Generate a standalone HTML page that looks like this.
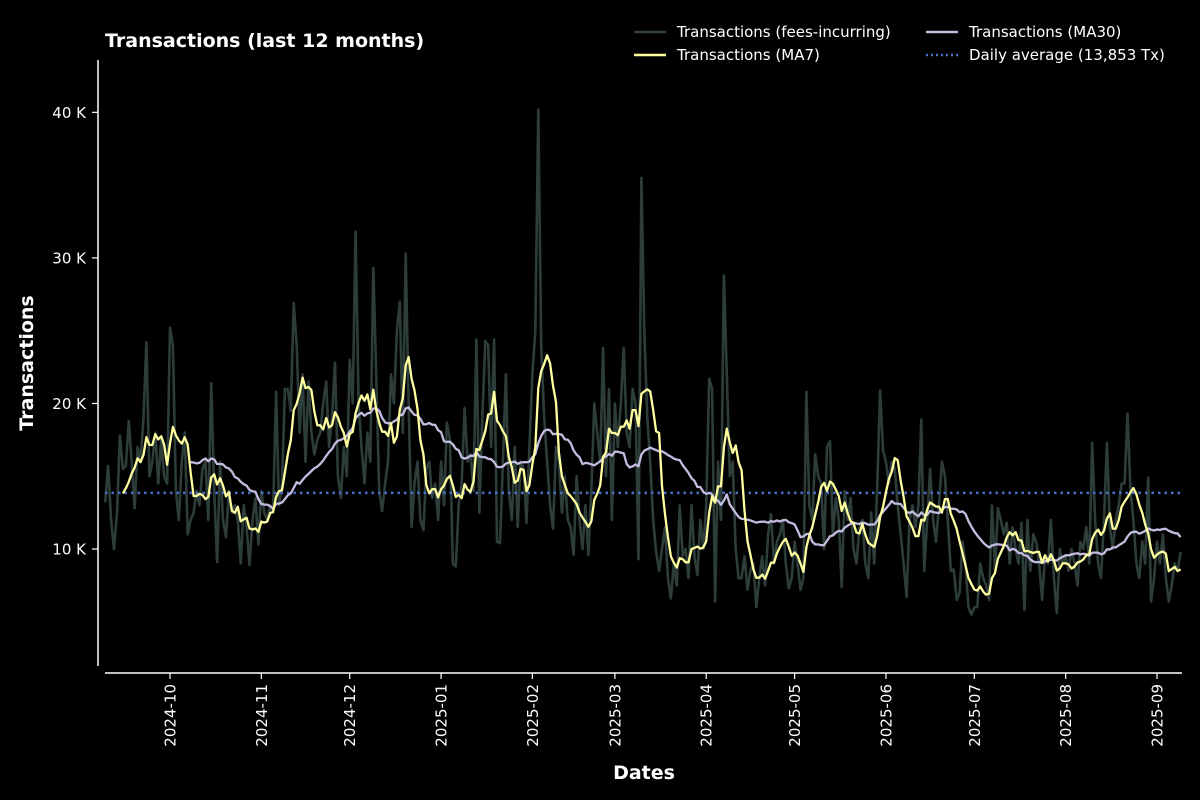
<!DOCTYPE html>
<html><head><meta charset="utf-8"><style>
html,body{margin:0;padding:0;background:#000;}
svg{display:block;font-family:"DejaVu Sans","Liberation Sans",sans-serif;}
</style></head><body>
<svg id="chart" width="1200" height="800" viewBox="0 0 1200 800">
<rect width="1200" height="800" fill="#000"/>
<text x="105" y="47" fill="#fff" font-size="19" font-weight="bold">Transactions (last 12 months)</text>
<text transform="translate(33,363) rotate(-90)" text-anchor="middle" fill="#fff" font-size="19" font-weight="bold">Transactions</text>
<text x="644" y="779" text-anchor="middle" fill="#fff" font-size="19" font-weight="bold">Dates</text>
<g font-size="15" fill="#fff">
<line x1="634" y1="32" x2="666" y2="32" stroke="#2f403c" stroke-width="2.5"/>
<text x="677" y="37">Transactions (fees-incurring)</text>
<line x1="634" y1="55" x2="666" y2="55" stroke="#ffffa0" stroke-width="2.5"/>
<text x="677" y="60">Transactions (MA7)</text>
<line x1="926" y1="32" x2="958" y2="32" stroke="#c4bce0" stroke-width="2.5"/>
<text x="969" y="37">Transactions (MA30)</text>
<line x1="926" y1="55" x2="958" y2="55" stroke="#4a72c4" stroke-width="2.5" stroke-dasharray="2,3"/>
<text x="969" y="60">Daily average (13,853 Tx)</text>
</g>
<g id="plot"></g>
</svg>
<script>
const startDate = [2024, 8, 9];
const yTicks = [10000, 20000, 30000, 40000];
const yTickLabels = ["10 K", "20 K", "30 K", "40 K"];
const xTickLabels = ["2024-10","2024-11","2024-12","2025-01","2025-02","2025-03","2025-04","2025-05","2025-06","2025-07","2025-08","2025-09"];
const dailyAverage = 13853;
const rawK = [
13.2,15.7,12.0,10.0,12.5,17.8,15.5,15.7,18.8,16.0,
12.8,17.0,16.0,19.0,24.2,15.0,16.0,18.0,14.5,17.5,
15.0,14.5,25.2,24.0,14.0,12.0,16.0,18.0,11.0,12.0,
12.5,14.0,13.0,15.5,16.0,12.0,21.4,14.0,9.1,16.0,
12.0,10.8,14.0,12.5,13.0,12.0,9.0,13.0,11.5,8.9,
12.0,13.5,10.3,14.0,12.5,12.0,13.0,12.5,20.8,13.0,
14.5,21.0,21.0,19.5,26.9,24.0,18.0,22.0,16.0,21.5,
18.0,16.5,17.5,18.0,20.0,21.5,17.0,19.0,22.8,15.0,
13.5,17.0,15.0,23.0,20.0,31.8,20.0,17.0,14.5,18.0,
16.0,29.3,22.0,14.0,12.6,14.5,16.0,22.0,20.0,25.0,
27.0,18.0,30.3,20.0,11.5,14.5,16.0,12.0,11.3,15.5,
16.0,13.5,14.5,12.0,16.0,13.0,18.7,17.5,9.0,8.8,
13.0,14.5,19.7,16.0,16.5,14.0,24.4,12.5,19.0,24.3,
24.0,17.0,24.4,10.5,10.4,16.0,22.0,14.0,12.0,17.0,
11.5,16.0,15.5,11.8,17.0,22.0,25.0,40.2,24.0,19.0,
16.0,13.0,11.4,17.0,16.0,12.5,15.0,12.0,11.5,9.6,
15.0,12.0,10.0,13.0,9.6,14.0,20.0,18.0,16.0,23.8,
15.0,21.0,12.0,20.0,17.0,20.0,23.8,18.0,17.0,21.0,
20.0,9.3,35.5,25.0,19.0,16.0,12.0,9.8,8.5,10.0,
11.5,8.0,6.6,9.0,7.5,13.0,9.5,10.0,8.0,13.0,
9.5,8.2,12.0,10.0,13.0,21.7,21.0,6.4,16.0,12.0,
28.8,22.0,15.0,16.0,10.0,8.0,8.0,9.5,7.2,8.5,
9.0,6.0,8.0,9.5,7.5,11.0,12.4,9.0,10.5,11.0,
12.0,9.0,7.3,8.0,10.5,9.0,7.2,8.0,20.8,13.0,
12.0,16.5,15.0,14.5,10.0,17.0,17.4,11.0,13.5,12.0,
7.4,14.0,12.0,13.5,10.0,9.0,11.5,12.0,9.0,8.0,
12.5,9.0,14.0,20.9,16.8,16.0,14.5,16.0,15.5,13.0,
11.0,9.0,6.7,12.0,13.0,11.5,13.0,18.9,8.5,12.0,
15.5,12.0,10.5,13.0,16.0,15.0,12.0,8.5,8.6,6.5,
7.0,10.5,9.0,6.0,5.5,6.0,6.0,9.0,8.0,7.5,
6.5,13.0,8.5,12.8,12.0,11.0,11.8,9.0,11.5,10.0,
9.0,11.8,5.8,12.0,8.5,11.0,10.5,9.0,6.5,9.5,
9.0,12.0,8.0,5.6,10.0,9.0,9.5,8.5,10.0,9.0,
7.5,10.5,10.0,11.5,9.0,17.3,12.0,9.0,8.0,12.0,
17.3,11.5,10.0,12.0,13.0,14.5,14.5,19.3,14.0,12.0,
9.0,8.0,10.5,9.0,14.9,6.4,8.0,10.5,9.0,11.0,
8.0,6.4,7.5,9.0,8.5,9.8
];

const NS = "http://www.w3.org/2000/svg";
const plot = document.getElementById("plot");
const DAY = 86400000;
const t0 = Date.UTC(startDate[0], startDate[1], startDate[2]);
const refT = Date.UTC(2024, 9, 1), refX = 170, pxPerDay = 987 / 335;
function xOfDay(i){ return refX + ((t0 + i*DAY - refT)/DAY) * pxPerDay; }
function xOfDate(t){ return refX + ((t - refT)/DAY) * pxPerDay; }
function yOf(v){ return 549 - (v - 10000) * 0.014555; }
function mk(tag, attrs){ const e = document.createElementNS(NS, tag); for (const k in attrs) e.setAttribute(k, attrs[k]); plot.appendChild(e); return e; }

const raw = rawK.map(v => v * 1000);
function ma(n){ const out = []; for (let i = 0; i < raw.length; i++){ if (i < n-1){ out.push(null); continue; } let s = 0; for (let j = i-n+1; j <= i; j++) s += raw[j]; out.push(s/n); } return out; }
const ma7 = ma(7), ma30 = ma(30);
function pathOf(arr){ let d = ""; arr.forEach((v,i) => { if (v === null) return; d += (d ? "L" : "M") + xOfDay(i).toFixed(1) + "," + yOf(v).toFixed(1); }); return d; }

let e = mk("line", {x1:98, y1:60, x2:98, y2:666, stroke:"#fff", "stroke-width":1.5});


e = mk("line", {x1:105, y1:673, x2:1182, y2:673, stroke:"#fff", "stroke-width":1.5});



yTicks.forEach((v, i) => {
  const y = yOf(v);
  const t = mk("line", {x1:92, y1:y, x2:98, y2:y, stroke:"#fff", "stroke-width":1.2});
  
  
  const l = mk("text", {x:86, y:y+5.5, "text-anchor":"end", fill:"#fff", "font-size":15});
  l.textContent = yTickLabels[i];
  
  
});
xTickLabels.forEach(lbl => {
  const p = lbl.split("-");
  const x = xOfDate(Date.UTC(+p[0], +p[1]-1, 1));
  const t = mk("line", {x1:x, y1:673, x2:x, y2:679, stroke:"#fff", "stroke-width":1.2});
  
  
  const l = mk("text", {transform:"translate(" + (x+5.5) + ",684) rotate(-90)", "text-anchor":"end", fill:"#fff", "font-size":15});
  l.textContent = lbl;
  
  
});

e = mk("path", {d:pathOf(raw), fill:"none", stroke:"#2c3d3a", "stroke-width":2.6, "stroke-linejoin":"round"});


const ya = yOf(dailyAverage);
e = mk("line", {x1:105, y1:ya, x2:1182, y2:ya, stroke:"#4a72c4", "stroke-width":2.5, "stroke-dasharray":"2.5,4"});


e = mk("path", {d:pathOf(ma30), fill:"none", stroke:"#c4bce0", "stroke-width":2.3, "stroke-linejoin":"round"});


e = mk("path", {d:pathOf(ma7), fill:"none", stroke:"#ffffa0", "stroke-width":2.3, "stroke-linejoin":"round"});


</script>
</body></html>
